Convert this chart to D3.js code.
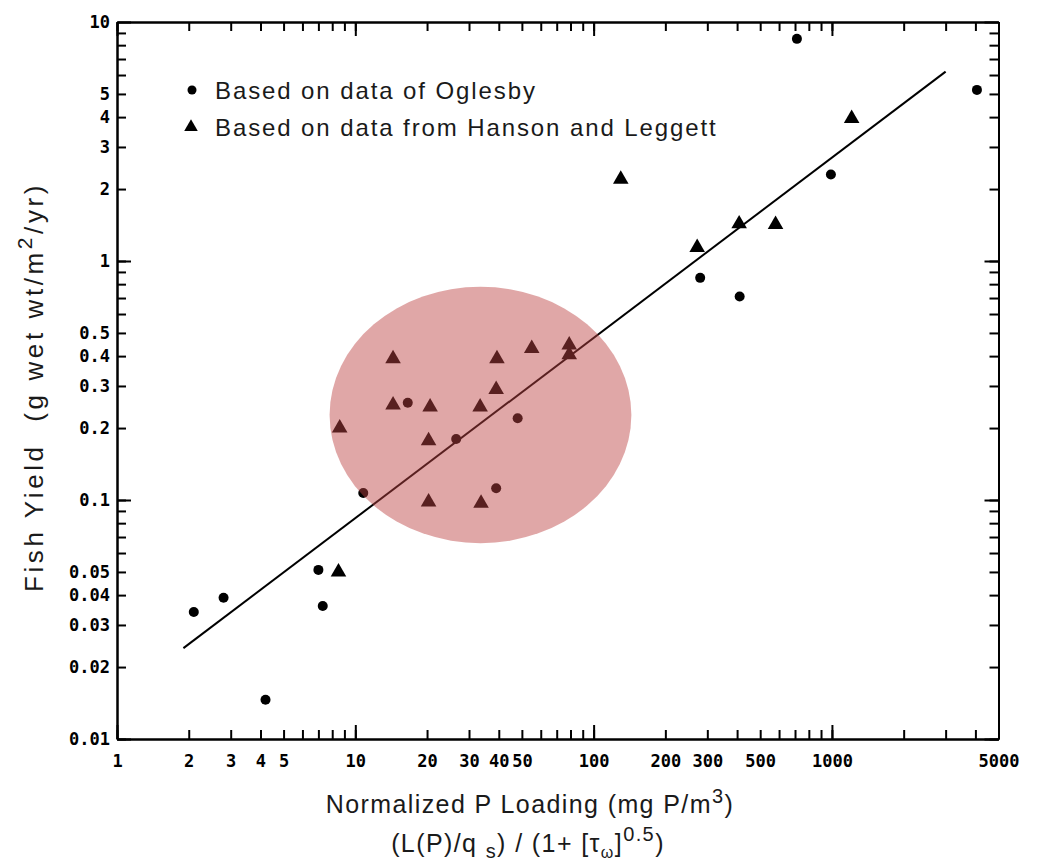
<!DOCTYPE html>
<html>
<head>
<meta charset="utf-8">
<script src="https://cdn.jsdelivr.net/npm/d3@7"></script>
<style>
  body { margin: 0; background: #fff; }
  #svg-container { width: 1037px; height: 868px; }
  .tick text { font-family: "DejaVu Sans Mono", monospace; font-weight: bold; font-size: 17px; fill: #000; }
  .axis path, .axis line { stroke: #000; }
  .title { font-family: "Liberation Sans", Arial, sans-serif; fill: #1a1a1a; }
</style>
</head>
<body>
<div id="svg-container"></div>
<script>
////////////////////////////////////////////////////////////////////
////////////////////////////  Data  ////////////////////////////////
// tick labels
const xTickLabels = [1, 2, 3, 4, 5, 10, 20, 30, 40, 50, 100, 200, 300, 500, 1000, 5000];
const yTickLabels = [0.01, 0.02, 0.03, 0.04, 0.05, 0.1, 0.2, 0.3, 0.4, 0.5, 1, 2, 3, 4, 5, 10];

// Oglesby (circles)
const oglesbyX = [2.1, 2.8, 4.2, 7.0, 7.3, 10.8, 16.6, 26.5, 39, 48, 280, 410, 990, 4060, 713];
const oglesbyY = [0.034, 0.039, 0.0146, 0.051, 0.036, 0.107, 0.255, 0.18, 0.112, 0.22, 0.85, 0.71, 2.3, 5.2, 8.5];

// Hanson and Leggett (triangles)
const hansonX = [8.5, 8.6, 14.4, 14.4, 20.6, 20.3, 20.3, 33.4, 33.7, 39.3, 39, 55, 79, 79, 130, 272, 408, 580, 1210];
const hansonY = [0.05, 0.2, 0.39, 0.25, 0.245, 0.177, 0.098, 0.245, 0.097, 0.39, 0.29, 0.43, 0.445, 0.405, 2.2, 1.14, 1.43, 1.42, 3.95];

// regression line end points
const fitX = [1.9, 3000];
const fitY = [0.024, 6.2];

// highlighted region (ellipse bounds)
const ellipseX = [7.8, 144];
const ellipseY = [0.066, 0.78];

////////////////////////////////////////////////////////////////////
////////////////////////////  Init  ////////////////////////////////
const width = 1037;
const height = 868;

const svg = d3.select("#svg-container").append("svg")
  .attr("width", width)
  .attr("height", height);

const xScale = d3.scaleLog().domain([1, 5000]).range([117, 998.5]);
const yScale = d3.scaleLog().domain([0.01, 10]).range([739, 22]);

// all 1..9 x 10^k ticks
const minorX = d3.range(0, 4).flatMap((k) => d3.range(1, 10).map((m) => m * 10 ** k)).filter((v) => v <= 5000);
const minorY = d3.range(-2, 1).flatMap((k) => d3.range(1, 10).map((m) => +(m * 10 ** k).toPrecision(3)));
const majorX = [1, 10, 100, 1000];
const majorY = [0.01, 0.1, 1, 10];

const [x0, x1] = xScale.range();
const [y0, y1] = yScale.range();

////////////////////////////////////////////////////////////////////
////////////////////////////  Axes  ////////////////////////////////
function drawAxis(axisFn, scale, values, size, transform) {
  svg.append("g")
    .attr("class", "axis")
    .attr("transform", transform)
    .call(axisFn(scale).tickValues(values).tickSize(size).tickSizeOuter(0).tickFormat(""))
    .call((g) => g.selectAll("line").attr("stroke-width", 2))
    .call((g) => g.select(".domain").attr("stroke-width", 2));
}

// bottom / top
drawAxis(d3.axisBottom, xScale, minorX, -9, `translate(0,${y0})`);
drawAxis(d3.axisBottom, xScale, majorX, -14, `translate(0,${y0})`);
drawAxis(d3.axisTop, xScale, minorX, -9, `translate(0,${y1})`);
drawAxis(d3.axisTop, xScale, majorX, -14, `translate(0,${y1})`);
// left / right
drawAxis(d3.axisLeft, yScale, minorY, -9, `translate(${x0},0)`);
drawAxis(d3.axisLeft, yScale, majorY, -14, `translate(${x0},0)`);
drawAxis(d3.axisRight, yScale, minorY, -9, `translate(${x1},0)`);
drawAxis(d3.axisRight, yScale, majorY, -14, `translate(${x1},0)`);

// tick labels
svg.append("g")
  .attr("transform", `translate(0,${y0})`)
  .call(d3.axisBottom(xScale).tickValues(xTickLabels).tickSize(0).tickPadding(16).tickFormat((d) => String(d)))
  .call((g) => g.select(".domain").remove());

svg.append("g")
  .attr("transform", `translate(${x0},0)`)
  .call(d3.axisLeft(yScale).tickValues(yTickLabels).tickSize(0).tickPadding(7).tickFormat((d) => String(d)))
  .call((g) => g.select(".domain").remove());

////////////////////////////////////////////////////////////////////
////////////////////////////  Marks  ///////////////////////////////
const fitLine = d3.line()
  .x((d) => xScale(d[0]))
  .y((d) => yScale(d[1]));

svg.append("path")
  .datum(d3.zip(fitX, fitY))
  .attr("d", fitLine)
  .attr("fill", "none")
  .attr("stroke", "#000")
  .attr("stroke-width", 2);

svg.append("g")
  .selectAll("circle")
  .data(d3.zip(oglesbyX, oglesbyY))
  .join("circle")
  .attr("cx", (d) => xScale(d[0]))
  .attr("cy", (d) => yScale(d[1]))
  .attr("r", 5)
  .attr("fill", "#000");

const tri = d3.symbol().type(d3.symbolTriangle).size(105);
svg.append("g")
  .selectAll("path")
  .data(d3.zip(hansonX, hansonY))
  .join("path")
  .attr("transform", (d) => `translate(${xScale(d[0])},${yScale(d[1])})`)
  .attr("d", tri)
  .attr("fill", "#000");

// highlight ellipse over the points
const ex = ellipseX.map(xScale);
const ey = ellipseY.map(yScale);
svg.append("ellipse")
  .attr("cx", (ex[0] + ex[1]) / 2)
  .attr("cy", (ey[0] + ey[1]) / 2)
  .attr("rx", (ex[1] - ex[0]) / 2)
  .attr("ry", Math.abs(ey[0] - ey[1]) / 2)
  .attr("fill", "rgb(190,67,67)")
  .attr("fill-opacity", 0.47);

////////////////////////////////////////////////////////////////////
////////////////////////////  Legend  //////////////////////////////
const legend = svg.append("g").attr("transform", "translate(192,90)");
legend.append("circle").attr("r", 4.5).attr("fill", "#000");
legend.append("path")
  .attr("transform", "translate(-1,37)")
  .attr("d", d3.symbol().type(d3.symbolTriangle).size(80))
  .attr("fill", "#000");
legend.append("text").attr("class", "title")
  .attr("x", 23).attr("y", 9)
  .style("font-size", "24px").style("letter-spacing", "1.9px")
  .text("Based on data of Oglesby");
legend.append("text").attr("class", "title")
  .attr("x", 23).attr("y", 46)
  .style("font-size", "24px").style("letter-spacing", "1.9px")
  .text("Based on data from Hanson and Leggett");

////////////////////////////////////////////////////////////////////
////////////////////////////  Titles  //////////////////////////////
const yTitle = svg.append("text").attr("class", "title")
  .attr("transform", "translate(43,387) rotate(-90)")
  .attr("text-anchor", "middle")
  .style("font-size", "26px").style("letter-spacing", "3.6px");
yTitle.append("tspan").text("Fish Yield\u00a0\u00a0(g wet wt/m");
yTitle.append("tspan").attr("dy", -11).style("font-size", "21px").text("2");
yTitle.append("tspan").attr("dy", 11).text("/yr)");

const xTitle = svg.append("text").attr("class", "title")
  .attr("x", 530).attr("y", 813)
  .attr("text-anchor", "middle")
  .style("font-size", "25px").style("letter-spacing", "1.4px");
xTitle.append("tspan").text("Normalized P Loading (mg P/m");
xTitle.append("tspan").attr("dy", -10).style("font-size", "20px").text("3");
xTitle.append("tspan").attr("dy", 10).text(")");

const xTitle2 = svg.append("text").attr("class", "title")
  .attr("x", 528).attr("y", 852)
  .attr("text-anchor", "middle")
  .style("font-size", "25px").style("letter-spacing", "1.4px");
xTitle2.append("tspan").text("(L(P)/q ");
xTitle2.append("tspan").attr("dy", 6).style("font-size", "20px").text("s");
xTitle2.append("tspan").attr("dy", -6).text(") / (1+ [\u03c4");
xTitle2.append("tspan").attr("dy", 6).style("font-size", "16px").text("\u03c9");
xTitle2.append("tspan").attr("dy", -6).text("]");
xTitle2.append("tspan").attr("dy", -11).style("font-size", "20px").text("0.5");
xTitle2.append("tspan").attr("dy", 11).text(")");
</script>
</body>
</html>
